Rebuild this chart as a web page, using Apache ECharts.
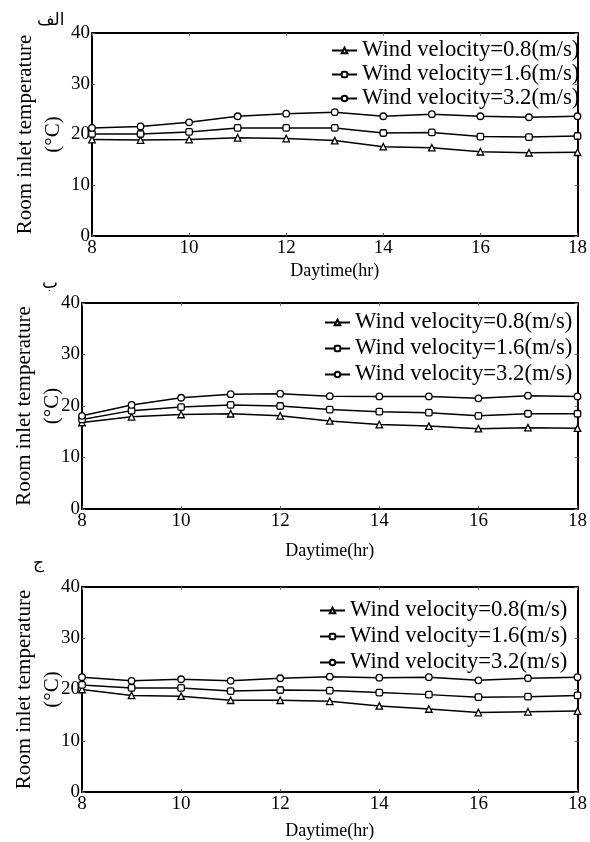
<!DOCTYPE html>
<html>
<head>
<meta charset="utf-8">
<script src="https://cdn.jsdelivr.net/npm/echarts@6/dist/echarts.min.js"></script>
<style>
  html, body { margin: 0; padding: 0; background: #fff; }
  #chart { width: 590px; height: 842px; }
</style>
</head>
<body>
<div id="chart"></div>
<script>
// ---- Data ----
const hours = [8, 9, 10, 11, 12, 13, 14, 15, 16, 17, 18];
const seriesNames = ['Wind velocity=0.8(m/s)', 'Wind velocity=1.6(m/s)', 'Wind velocity=3.2(m/s)'];
const panelLabels = ['الف', 'ب', 'ج'];
const xAxisTitle = 'Daytime(hr)';
const yAxisTitle = 'Room inlet temperature\n(°C)';

// Panel الف
const a_v08 = [19.0, 18.9, 19.0, 19.35, 19.2, 18.8, 17.6, 17.4, 16.6, 16.4, 16.5];
const a_v16 = [20.1, 20.1, 20.5, 21.3, 21.3, 21.3, 20.3, 20.4, 19.6, 19.5, 19.7];
const a_v32 = [21.3, 21.6, 22.4, 23.6, 24.1, 24.4, 23.6, 24.0, 23.6, 23.4, 23.6];
// Panel ب
const b_v08 = [16.8, 17.9, 18.35, 18.5, 18.1, 17.1, 16.4, 16.1, 15.6, 15.8, 15.7];
const b_v16 = [17.4, 19.1, 19.8, 20.2, 20.0, 19.3, 18.9, 18.7, 18.1, 18.5, 18.5];
const b_v32 = [18.1, 20.2, 21.6, 22.3, 22.4, 21.9, 21.85, 21.85, 21.5, 22.0, 21.85];
// Panel ج
const c_v08 = [20.0, 18.85, 18.7, 17.9, 17.9, 17.7, 16.8, 16.2, 15.5, 15.65, 15.8];
const c_v16 = [20.9, 20.3, 20.3, 19.7, 19.9, 19.8, 19.4, 19.0, 18.5, 18.6, 18.85];
const c_v32 = [22.4, 21.7, 22.0, 21.7, 22.2, 22.5, 22.3, 22.4, 21.8, 22.2, 22.4];

const panels = [[a_v08, a_v16, a_v32], [b_v08, b_v16, b_v32], [c_v08, c_v16, c_v32]];

// ---- Layout (styles only) ----
const FONT = 'Liberation Serif';
const grids = [
  { left: 92, top: 33, width: 489, height: 203 },
  { left: 82, top: 303, width: 499, height: 206 },
  { left: 82, top: 587, width: 499, height: 205 }
];
const xNameGaps = [26, 33, 30];
const yNameGaps = [25, 16, 16];
const legendPos = [
  { left: 331, top: 39, itemGap: 1 },
  { left: 324, top: 311, itemGap: 3 },
  { left: 319, top: 599, itemGap: 3 }
];
const labelPos = [[37, 12], [42, 275], [33, 555]];
const symbols = ['triangle', 'roundRect', 'circle'];

const xAxes = [], yAxes = [], series = [], legends = [], graphics = [];
grids.forEach((g, i) => {
  xAxes.push({
    type: 'value', gridIndex: i, min: 8, max: 18, interval: 2,
    name: xAxisTitle, nameLocation: 'middle', nameGap: xNameGaps[i],
    nameTextStyle: { fontFamily: FONT, fontSize: 18, color: '#000' },
    axisLine: { show: true, onZero: false, lineStyle: { color: '#000', width: 2 } },
    axisTick: { show: true, inside: true, length: 3, lineStyle: { color: '#555', width: 1 } },
    axisLabel: { fontFamily: FONT, fontSize: 19, color: '#000', margin: 3 },
    splitLine: { show: false }
  });
  xAxes.push({
    type: 'value', gridIndex: i, min: 8, max: 18, interval: 2, position: 'top',
    axisLine: { show: true, onZero: false, lineStyle: { color: '#000', width: 2 } },
    axisTick: { show: true, inside: true, length: 3, lineStyle: { color: '#777', width: 1 } },
    axisLabel: { show: false }, splitLine: { show: false }
  });
  yAxes.push({
    type: 'value', gridIndex: i, min: 0, max: 40, interval: 10,
    name: yAxisTitle, nameLocation: 'middle', nameGap: yNameGaps[i],
    nameMoveOverlap: false,
    nameTextStyle: { fontFamily: FONT, fontSize: 21, color: '#000', lineHeight: 28 },
    axisLine: { show: true, onZero: false, lineStyle: { color: '#000', width: 2 } },
    axisTick: { show: true, inside: true, length: 3, lineStyle: { color: '#555', width: 1 } },
    axisLabel: { fontFamily: FONT, fontSize: 19, color: '#000', margin: 2 },
    splitLine: { show: false }
  });
  yAxes.push({
    type: 'value', gridIndex: i, min: 0, max: 40, interval: 10, position: 'right',
    axisLine: { show: true, onZero: false, lineStyle: { color: '#000', width: 2 } },
    axisTick: { show: true, inside: true, length: 3, lineStyle: { color: '#777', width: 1 } },
    axisLabel: { show: false }, splitLine: { show: false }
  });
  panels[i].forEach((vals, k) => {
    series.push({
      type: 'line', name: seriesNames[k],
      xAxisIndex: i * 2, yAxisIndex: i * 2,
      data: hours.map((h, j) => [h, vals[j]]),
      symbol: symbols[k], symbolSize: 6.5,
      showAllSymbol: true,
      lineStyle: { color: '#000', width: 1.5 },
      itemStyle: { color: '#fff', borderColor: '#000', borderWidth: 1.3 },
      emphasis: { disabled: true },
      animation: false
    });
  });
  legends.push({
    orient: 'vertical', left: legendPos[i].left, top: legendPos[i].top,
    itemGap: legendPos[i].itemGap, itemWidth: 25, itemHeight: 7,
    padding: 0, selectedMode: false,
    data: seriesNames,
    textStyle: { fontFamily: FONT, fontSize: 22.7, color: '#000' }
  });
  graphics.push({
    type: 'text', left: labelPos[i][0], top: labelPos[i][1],
    style: { text: panelLabels[i], font: '17px "DejaVu Sans"', fill: '#000' }
  });
});

const chart = echarts.init(document.getElementById('chart'), null, { renderer: 'canvas' });
chart.setOption({
  backgroundColor: '#fff',
  animation: false,
  grid: grids.map(g => Object.assign({ containLabel: false }, g)),
  xAxis: xAxes,
  yAxis: yAxes,
  legend: legends,
  series: series,
  graphic: graphics
});
</script>
</body>
</html>
